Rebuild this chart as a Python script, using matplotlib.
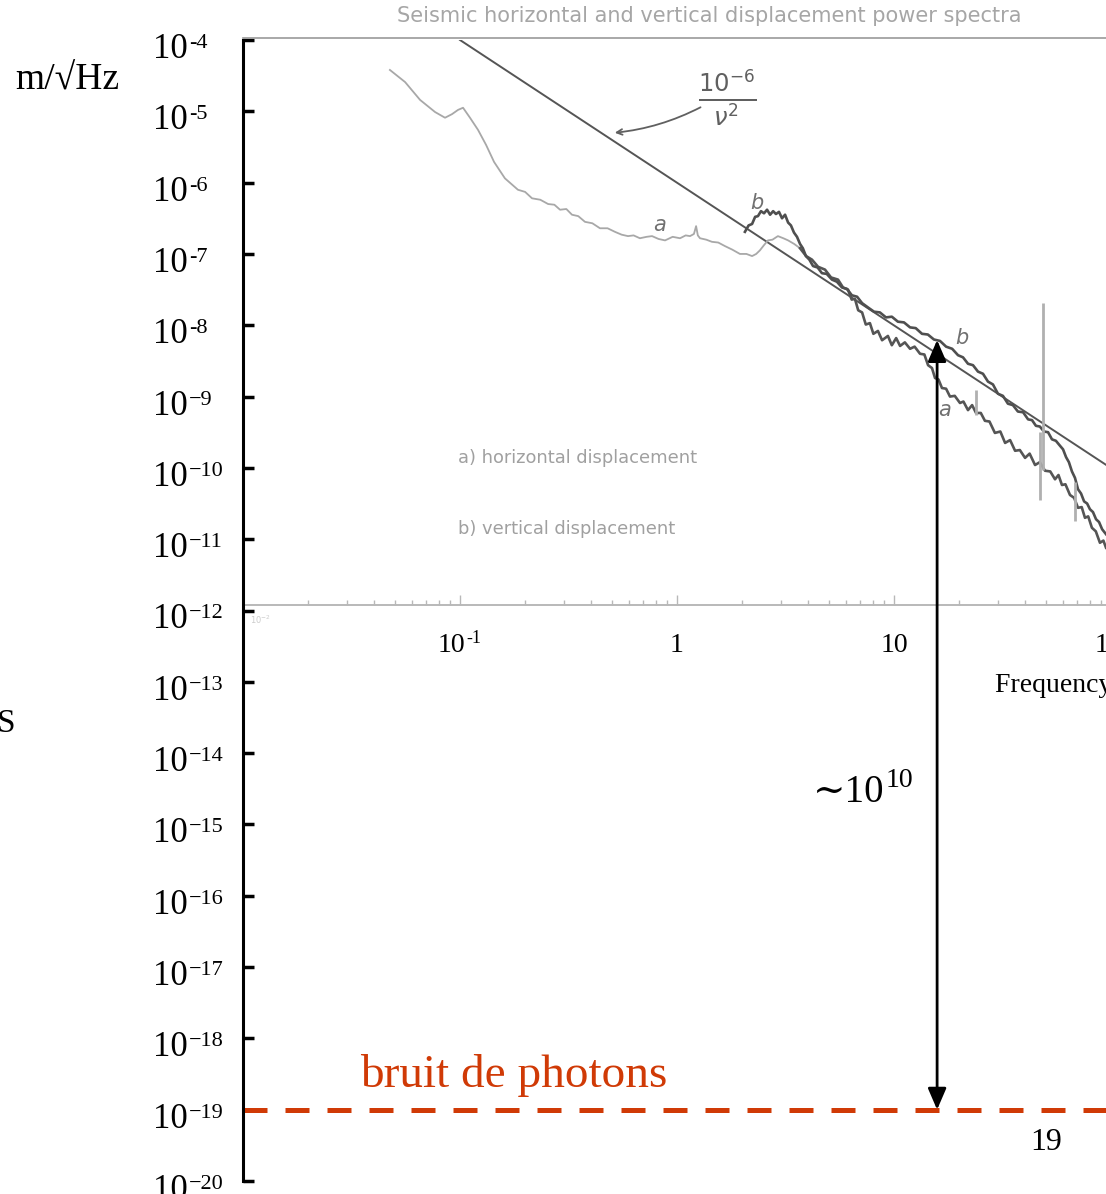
import numpy as np
import matplotlib.pyplot as plt
import matplotlib.ticker as mticker
import matplotlib.transforms as mtransforms

# ---------------- values ----------------
decades = list(range(-4, -21, -1))          # y tick exponents, 1e-4 ... 1e-20

# straight line 1e-6 / nu^2, end points as drawn
ref_f = [0.1, 95.0]
ref_amp = [1e-4, 1.1e-10]

# curve a (horizontal displacement), light part: log10 f, log10 m/sqrt(Hz)
a_light_logf = [-1.323, -1.253, -1.184, -1.115, -1.069, -1.037, -1.009, -0.986, -0.954, -0.917,
                -0.880, -0.843, -0.793, -0.733, -0.700, -0.668, -0.630, -0.594, -0.565, -0.539,
                -0.510, -0.484, -0.455, -0.424, -0.390, -0.355, -0.320, -0.286, -0.255, -0.226,
                -0.200, -0.171, -0.140, -0.115, -0.085, -0.055, -0.020, 0.014, 0.040, 0.060,
                0.078, 0.088, 0.096, 0.106, 0.135, 0.161, 0.190, 0.221, 0.255, 0.290,
                0.320, 0.346, 0.365, 0.382, 0.400, 0.419, 0.440, 0.465, 0.490, 0.512,
                0.540, 0.567]
a_light_logy = [-4.42, -4.59, -4.84, -5.01, -5.09, -5.04, -4.98, -4.95, -5.09, -5.26,
                -5.47, -5.71, -5.94, -6.10, -6.13, -6.22, -6.24, -6.30, -6.31, -6.38,
                -6.37, -6.45, -6.47, -6.55, -6.57, -6.64, -6.64, -6.69, -6.73, -6.75,
                -6.74, -6.78, -6.76, -6.75, -6.79, -6.81, -6.76, -6.78, -6.74, -6.75,
                -6.72, -6.61, -6.74, -6.78, -6.80, -6.83, -6.84, -6.89, -6.94, -7.00,
                -7.00, -7.03, -7.00, -6.95, -6.88, -6.81, -6.80, -6.75, -6.78, -6.81,
                -6.86, -6.92]

# curve a, dark part (above ~4 Hz)
a_dark_logf = [0.567, 0.595, 0.622, 0.650, 0.682, 0.710, 0.742, 0.765, 0.788, 0.805,
               0.820, 0.835, 0.853, 0.870, 0.889, 0.905, 0.926, 0.945, 0.972, 0.990,
               1.010, 1.028, 1.050, 1.074, 1.095, 1.120, 1.140, 1.157, 1.175, 1.189,
               1.205, 1.221, 1.240, 1.258, 1.280, 1.304, 1.320, 1.341, 1.360, 1.378,
               1.400, 1.419, 1.440, 1.465, 1.490, 1.512, 1.535, 1.558, 1.580, 1.604,
               1.625, 1.650, 1.672, 1.696, 1.720, 1.742, 1.758, 1.774, 1.790, 1.811,
               1.830, 1.848, 1.865, 1.880, 1.895, 1.912, 1.930, 1.949, 1.965, 1.977]
a_dark_logy = [-6.92, -7.03, -7.08, -7.18, -7.22, -7.33, -7.36, -7.47, -7.50, -7.64,
               -7.63, -7.79, -7.82, -7.99, -7.97, -8.12, -8.08, -8.21, -8.15, -8.28,
               -8.18, -8.29, -8.24, -8.33, -8.30, -8.40, -8.41, -8.56, -8.60, -8.74,
               -8.76, -8.88, -8.89, -9.00, -8.99, -9.09, -9.07, -9.19, -9.12, -9.23,
               -9.23, -9.34, -9.35, -9.51, -9.49, -9.65, -9.61, -9.76, -9.75, -9.86,
               -9.80, -9.96, -9.92, -10.04, -10.05, -10.16, -10.10, -10.24, -10.23, -10.38,
               -10.42, -10.56, -10.55, -10.70, -10.68, -10.84, -10.89, -11.05, -11.02, -11.12]

# curve b (vertical displacement)
b_logf = [0.313, 0.330, 0.346, 0.360, 0.373, 0.387, 0.401, 0.415, 0.429, 0.443,
          0.456, 0.470, 0.484, 0.498, 0.512, 0.525, 0.539, 0.553, 0.567, 0.580,
          0.594, 0.610, 0.627, 0.648, 0.668, 0.690, 0.714, 0.737, 0.760, 0.783,
          0.806, 0.830, 0.853, 0.880, 0.908, 0.935, 0.963, 0.990, 1.018, 1.046,
          1.074, 1.100, 1.129, 1.156, 1.184, 1.212, 1.240, 1.268, 1.295, 1.318,
          1.341, 1.364, 1.387, 1.410, 1.433, 1.456, 1.479, 1.502, 1.525, 1.548,
          1.571, 1.595, 1.618, 1.636, 1.654, 1.672, 1.691, 1.710, 1.728, 1.746,
          1.765, 1.779, 1.793, 1.806, 1.820, 1.834, 1.848, 1.862, 1.876, 1.890,
          1.903, 1.917, 1.931, 1.945, 1.959, 1.977]
b_logy = [-6.69, -6.60, -6.58, -6.48, -6.47, -6.40, -6.43, -6.38, -6.45, -6.40,
          -6.44, -6.41, -6.50, -6.45, -6.56, -6.60, -6.70, -6.76, -6.86, -6.92,
          -7.03, -7.08, -7.17, -7.19, -7.27, -7.28, -7.36, -7.39, -7.47, -7.49,
          -7.58, -7.60, -7.69, -7.75, -7.81, -7.82, -7.89, -7.88, -7.95, -7.96,
          -8.03, -8.04, -8.12, -8.13, -8.20, -8.22, -8.30, -8.33, -8.42, -8.45,
          -8.54, -8.56, -8.65, -8.68, -8.79, -8.83, -8.96, -8.99, -9.10, -9.12,
          -9.21, -9.22, -9.32, -9.33, -9.41, -9.42, -9.49, -9.50, -9.60, -9.62,
          -9.69, -9.74, -9.85, -9.92, -10.05, -10.14, -10.30, -10.36, -10.47, -10.50,
          -10.58, -10.62, -10.72, -10.76, -10.86, -10.93]

# narrow lines in the spectra: log10 f, low and high log10 amplitude
spike_logf = [1.378, 1.673, 1.687, 1.834]
spike_lo = [-9.26, -10.45, -10.03, -10.75]
spike_hi = [-8.91, -9.50, -7.69, -10.20]

photon_level = 1e-19
arrow_f = 15.8
arrow_top = 6.2e-9

scan_x_labels = [(0.1, '10', '-1'), (1.0, '1', ''), (10.0, '10', ''), (105.0, '100', '')]

# ---------------- figure ----------------
W, H = 1106, 1194
SERIF = ['Liberation Serif', 'DejaVu Serif']
SCAN = ['DejaVu Sans']
RED = '#D03A06'

fig = plt.figure(figsize=(W / 100, H / 100), dpi=100)
ax = fig.add_axes([243 / W, 13 / H, 863 / W, 1141 / H])
ax.set_xscale('log')
ax.set_yscale('log')
xmax = 10 ** (863 / 217 - 2)
ax.set_xlim(0.01, xmax)
ax.set_ylim(1e-20, 1e-4)
for s in ['top', 'right', 'bottom']:
    ax.spines[s].set_visible(False)
ax.spines['left'].set_linewidth(2.2)
ax.set_yticks([10.0 ** k for k in decades])
ax.yaxis.set_minor_locator(mticker.NullLocator())
ax.tick_params(axis='y', direction='in', length=8, width=2.5, labelleft=False)
ax.set_xticks([])
ax.xaxis.set_minor_locator(mticker.NullLocator())

# scanned plot frame: top border and its frequency axis
ax.axhline(10 ** -3.97, color='#9a9a9a', lw=1.2, clip_on=False)
scan_axis = 1.2e-12
ax.axhline(scan_axis, color='#b3b3b3', lw=1.3)
for k in range(-2, 2):
    for m in range(1, 10):
        h = 10 if m == 1 else 5
        ax.vlines(m * 10.0 ** k, scan_axis, scan_axis * 10 ** (h / 71.3), color='#b8b8b8', lw=1)

# spectra
ax.plot(ref_f, ref_amp, color='#555555', lw=1.4)
ax.plot(10 ** np.array(a_light_logf), 10 ** np.array(a_light_logy), color='#a8a8a8', lw=1.3)
ax.plot(10 ** np.array(a_dark_logf), 10 ** np.array(a_dark_logy), color='#555555', lw=1.9)
ax.plot(10 ** np.array(b_logf), 10 ** np.array(b_logy), color='#4f4f4f', lw=1.9)
ax.vlines(10 ** np.array(spike_logf), 10 ** np.array(spike_lo), 10 ** np.array(spike_hi),
          color='#b0b0b0', lw=2)

# photon noise level and the 1e10 gap
ax.axhline(photon_level, color=RED, lw=3.6, dashes=(4.8, 3.6), dash_capstyle='butt')
ax.annotate('', xy=(arrow_f, arrow_top), xytext=(arrow_f, photon_level),
            arrowprops=dict(arrowstyle='<|-|>,head_length=0.65,head_width=0.28', lw=2,
                            color='black', shrinkA=0, shrinkB=0, mutation_scale=20))

renderer = fig.canvas.get_renderer()
ident = mtransforms.IdentityTransform()


def power_text(x, y, base, exp, size, exp_size, rise, color='black', family=SERIF):
    # x, y in display pixels, y is the baseline
    t = fig.text(x, y, base, transform=ident, fontsize=size, family=family,
                 color=color, va='baseline', ha='left')
    bb = t.get_window_extent(renderer)
    if exp:
        fig.text(bb.x1 + 1, y + rise, exp, transform=ident, fontsize=exp_size,
                 family=family, color=color, va='baseline', ha='left')
    return t


# y tick labels of the slide
for k in decades:
    yd = ax.transData.transform((0.01, 10.0 ** k))[1]
    sign = '-' if k >= -8 else '\u2212'
    power_text(153, yd - 18, '10', sign + str(-k), 25, 16, 10)

# frequency labels under the scan
for f, base, exp in scan_x_labels:
    xd = ax.transData.transform((f, 1e-12))[0]
    t = power_text(0, H - 652, base, exp, 20, 13, 9)
    w = t.get_window_extent(renderer).width + (17 if exp else 0)
    t.set_x(xd - w / 2)
    if exp:
        fig.texts[-1].set_x(xd - w / 2 + t.get_window_extent(renderer).width + 1)
fig.text(995, H - 692, 'Frequency (Hz)', transform=ident, fontsize=20, family=SERIF,
         va='baseline')

# slide texts
fig.text(15, H - 90, 'm/\u221aHz', transform=ident, fontsize=27, family=SERIF, va='baseline')
fig.text(-3, H - 732, 'S', transform=ident, fontsize=24, family=SERIF, va='baseline')
power_text(813, H - 802, '\u223c10', '10', 28, 20, 15)
fig.text(360, H - 1087, 'bruit de photons', transform=ident, fontsize=34, family=SERIF,
         color=RED, va='baseline')
fig.text(1030, H - 1150, '19', transform=ident, fontsize=23, family=SERIF, va='baseline')

# texts of the scanned figure
fig.text(709, H - 16, 'Seismic horizontal and vertical displacement power spectra',
         transform=ident, fontsize=15, family=SCAN, color='#a6a6a6', ha='center', va='center')
fig.text(458, H - 458, 'a) horizontal displacement', transform=ident, fontsize=12.9,
         family=SCAN, color='#a0a0a0', va='center')
fig.text(458, H - 529, 'b) vertical displacement', transform=ident, fontsize=12.9,
         family=SCAN, color='#a0a0a0', va='center')
fig.text(250, H - 620, '10$^{-2}$', transform=ident, fontsize=6, color='#cccccc', va='center')
for s, x, y in [('a', 660, 225), ('b', 757, 203), ('b', 962, 338), ('a', 945, 410)]:
    fig.text(x, H - y, s, transform=ident, fontsize=15, family=SCAN, style='italic',
             color='#707070', ha='center', va='center')
fig.text(727, H - 98, r'$\frac{10^{-6}}{\nu^{2}}$', transform=ident, fontsize=25,
         color='#606060', ha='center', va='center')
ax.annotate('', xy=(612, H - 133), xytext=(703, H - 106), xycoords='figure pixels',
            arrowprops=dict(arrowstyle='->', color='#606060', lw=1.3,
                            connectionstyle='arc3,rad=-0.1'))

fig.savefig('out.png', dpi=100)
